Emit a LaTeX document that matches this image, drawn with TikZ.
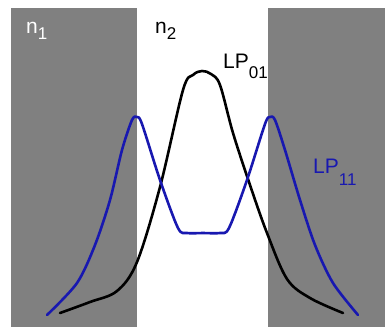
\documentclass[tikz,border=0pt]{standalone}
\usepackage{fontspec}
\setmainfont{Liberation Sans}
\definecolor{cladgray}{RGB}{128,128,128}
\definecolor{modeblue}{RGB}{24,24,176}
\newcommand{\sublbl}[3]{#1\raisebox{-#3pt}{\fontsize{17}{17}\selectfont #2}}
\begin{document}
\begin{tikzpicture}[x=1pt,y=-1pt,
  clad/.style={fill=cladgray,draw=none},
  lbl/.style={anchor=base west,inner sep=0pt,font=\fontsize{21}{21}\selectfont},
  mode/.style={line width=2.6pt,line join=round,line cap=round}]
\useasboundingbox (0,0) rectangle (385,327);
\fill[white] (0,0) rectangle (385,327);
\path[clad] (11,8) rectangle (137,327);
\path[clad] (268,8) rectangle (385,327);
\node[lbl,text=white] (n1) at (26,33) {\sublbl{n}{1}{6}};
\node[lbl,text=black] (n2) at (155,33) {\sublbl{n}{2}{6}};
\node[lbl,text=black] (lp01) at (223,68) {\sublbl{LP}{01}{10}};
\node[lbl,text=modeblue] (lp11) at (313,173) {\sublbl{LP}{11}{12}};
\draw[mode,black] plot[smooth,tension=0.55] coordinates {
 (60,313) (90,302) (117,291) (137,262) (160,187) (183,90) (193,75) (202,71) (211,74)
 (220,85) (233,133) (250,185) (267,233) (287,279) (310,298) (343,313)};
\draw[mode,modeblue] plot[smooth,tension=0.5] coordinates {
 (47,315) (77,283) (95,245) (110,200) (122,150) (132,120) (137,117) (142,124)
 (160,180) (178,228) (187,233) (203,233) (220,233) (229,228)
 (247,180) (265,124) (270,117) (275,120) (285,150) (300,200) (315,245) (333,283) (358,315)};
\end{tikzpicture}
\end{document}
